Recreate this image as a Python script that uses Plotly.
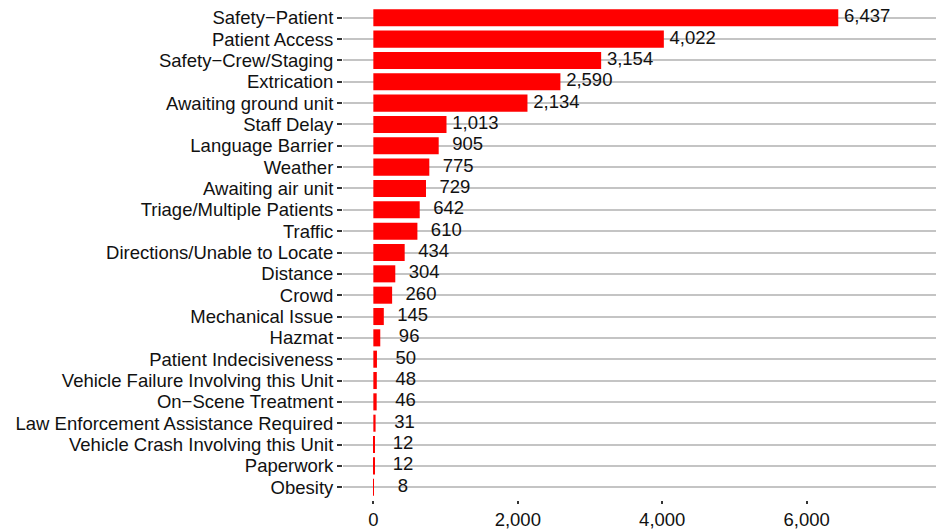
import plotly.graph_objects as go

categories = [
    "Safety−Patient", "Patient Access", "Safety−Crew/Staging", "Extrication",
    "Awaiting ground unit", "Staff Delay", "Language Barrier", "Weather",
    "Awaiting air unit", "Triage/Multiple Patients", "Traffic",
    "Directions/Unable to Locate", "Distance", "Crowd", "Mechanical Issue",
    "Hazmat", "Patient Indecisiveness", "Vehicle Failure Involving this Unit",
    "On−Scene Treatment", "Law Enforcement Assistance Required",
    "Vehicle Crash Involving this Unit", "Paperwork", "Obesity",
]
counts = [6437, 4022, 3154, 2590, 2134, 1013, 905, 775, 729, 642, 610,
          434, 304, 260, 145, 96, 50, 48, 46, 31, 12, 12, 8]
x_ticks = [0, 2000, 4000, 6000]
label_offset = 400

FONT = "Liberation Sans, Arial, sans-serif"
FS = 18.5

fig = go.Figure()
fig.add_trace(go.Bar(
    y=categories, x=counts, orientation="h",
    marker=dict(color="#FF0000", line=dict(width=0)),
    hoverinfo="x+y",
))
fig.add_trace(go.Scatter(
    y=categories, x=[c + label_offset for c in counts],
    mode="text", text=[f"{c:,}" for c in counts],
    textposition="middle center",
    textfont=dict(family=FONT, size=FS, color="#111111"),
    hoverinfo="skip", cliponaxis=False,
))

for t in x_ticks[1:]:
    fig.add_shape(type="line", x0=t, x1=t, y0=0, y1=1, xref="x", yref="paper",
                  line=dict(color="white", width=2), layer="between")

n = len(categories)
fig.update_layout(
    width=936, height=529,
    margin=dict(l=343, r=0, t=5, b=29, autoexpand=False),
    paper_bgcolor="white", plot_bgcolor="white",
    showlegend=False, bargap=0.2,
    font=dict(family=FONT, size=FS, color="#111111"),
)
fig.update_xaxes(
    range=[-420, 7790], tickmode="array", tickvals=x_ticks,
    ticktext=[f"{t:,}" for t in x_ticks],
    showgrid=False, zeroline=False, showline=False, automargin=False,
    ticks="outside", ticklen=3, tickwidth=1.5, tickcolor="#333333",
    tickfont=dict(family=FONT, size=FS, color="#111111"),
)
fig.update_yaxes(
    type="category", categoryorder="array", categoryarray=categories,
    tickmode="array", tickvals=categories, ticktext=categories,
    range=[n - 0.4, -0.6], automargin=False,
    showgrid=True, gridcolor="#C4C4C4", gridwidth=2.2,
    zeroline=False, showline=False,
    ticks="outside", ticklen=5, tickwidth=1.5, tickcolor="#333333",
    tickfont=dict(family=FONT, size=FS, color="#111111"),
)

fig.write_html(
    "out.html",
    config={"displayModeBar": False},
    post_script="document.body.style.margin='0';document.body.style.overflow='hidden';",
)
